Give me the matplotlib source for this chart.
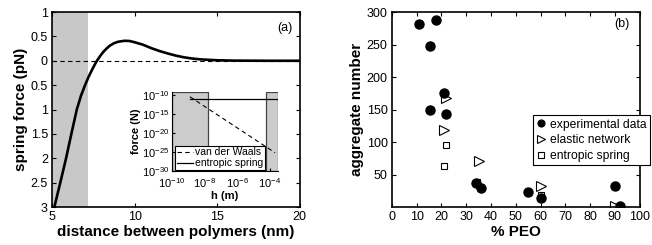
import matplotlib
matplotlib.use('Agg')
import matplotlib.pyplot as plt
from matplotlib.patches import Rectangle

plt.rcParams['font.family'] = ['Liberation Sans', 'DejaVu Sans']
plt.rcParams['mathtext.fontset'] = 'custom'
plt.rcParams['mathtext.rm'] = 'Liberation Sans'
plt.rcParams['mathtext.it'] = 'Liberation Sans:italic'

# ---- panel (a): spring force vs distance ----
dist_nm = [5.14, 5.5, 5.85, 6.17, 6.5, 6.75, 7.0, 7.2, 7.4, 7.6, 7.72, 7.9, 8.1, 8.3,
           8.5, 8.75, 9.0, 9.4, 9.7, 10.0, 10.5, 11.0, 11.5, 12.0, 12.5, 13.0,
           13.5, 14.0, 15.0, 16.0, 18.0, 20.0]
force_pn = [-3.0, -2.5, -2.0, -1.5, -1.0, -0.72, -0.5, -0.34, -0.2, -0.07, 0.0,
            0.09, 0.18, 0.25, 0.31, 0.36, 0.39, 0.41, 0.405, 0.38, 0.33, 0.26, 0.20,
            0.15, 0.105, 0.07, 0.045, 0.028, 0.01, 0.003, 0.0, 0.0]
shade_nm = (5.0, 7.2)
y_ticks_a = [1, 0.5, 0, -0.5, -1, -1.5, -2, -2.5, -3]
y_labels_a = ['1', '0.5', '0', '0.5', '1', '1.5', '2', '2.5', '3']

# inset: log-log force vs h
vdw_h = [10**-8.9, 10**-3.66]
vdw_f = [10**-10.45, 10**-25.2]
spring_h = [10**-8.9, 10**-3.48]
spring_f = [10**-11.05, 10**-11.05]
inset_shade = [(1e-10, 10**-7.8), (10**-4.2, 10**-3.48)]

# ---- panel (b): aggregate number vs % PEO ----
exp_peo = [11, 18, 15.5, 21, 15.5, 22, 34, 36, 55, 60, 90, 92]
exp_agg = [282, 287, 247, 175, 150, 143, 37, 29, 23, 14, 33, 2]
net_peo = [22, 21, 35, 60, 90]
net_agg = [167, 118, 71, 33, 2]
ent_peo = [22, 21, 34.5, 60]
ent_agg = [95, 63, 39, 18]

fig = plt.figure(figsize=(6.52, 2.45), dpi=100)
ax1 = fig.add_axes([0.0798, 0.155, 0.380, 0.796])
ax2 = fig.add_axes([0.601, 0.155, 0.380, 0.796])

for ax in (ax1, ax2):
    ax.tick_params(direction='in', top=True, right=True, length=3, width=0.8,
                   labelsize=9, pad=3)
    for s in ax.spines.values():
        s.set_linewidth(1.2)

ax1.axvspan(*shade_nm, color='#c8c8c8', lw=0, zorder=0)
ax1.axhline(0, color='black', lw=0.8, ls=(0, (4, 3)), zorder=1)
ax1.plot(dist_nm, force_pn, color='black', lw=1.9, zorder=2)
ax1.set_xlim(5, 20)
ax1.set_ylim(-3, 1)
ax1.set_xticks([5, 10, 15, 20])
ax1.set_yticks(y_ticks_a)
ax1.set_yticklabels(y_labels_a)
ax1.set_xlabel('distance between polymers (nm)', fontsize=11, fontweight='bold', labelpad=1)
ax1.set_ylabel('spring force (pN)', fontsize=11, fontweight='bold', labelpad=2)
ax1.text(0.94, 0.92, '(a)', transform=ax1.transAxes, ha='center', va='center', fontsize=9)

# inset
axi = fig.add_axes([172 / 652, (245 - 171) / 245, 106 / 652, 79 / 245])
axi.set_xscale('log')
axi.set_yscale('log')
axi.set_xlim(1e-10, 10**-3.48)
axi.set_ylim(1e-30, 10**-9.2)
for x0, x1 in inset_shade:
    axi.add_patch(Rectangle((x0, 1e-30), x1 - x0, 10**-9.2 - 1e-30,
                            facecolor='#cccccc', edgecolor='#444444', lw=0.9, zorder=0))
axi.plot(vdw_h, vdw_f, color='black', lw=0.8, ls=(0, (4, 3)), label='van der Waals')
axi.plot(spring_h, spring_f, color='black', lw=0.9, label='entropic spring')
axi.spines['top'].set_visible(False)
axi.spines['right'].set_visible(False)
axi.patch.set_alpha(0)
axi.set_xticks([1e-10, 1e-8, 1e-6, 1e-4])
axi.set_xticklabels([r'$10^{-10}$', r'$10^{-8}$', r'$10^{-6}$', r'$10^{-4}$'])
axi.set_yticks([1e-30, 1e-25, 1e-20, 1e-15, 1e-10])
axi.set_yticklabels([r'$10^{-30}$', r'$10^{-25}$', r'$10^{-20}$', r'$10^{-15}$', r'$10^{-10}$'])
axi.minorticks_off()
axi.tick_params(direction='in', length=2, labelsize=8, pad=2)
axi.tick_params(axis='x', pad=3.5)
axi.set_xlabel('h (m)', fontsize=8, fontweight='bold', labelpad=1)
axi.set_ylabel('force (N)', fontsize=8, fontweight='bold', labelpad=1)
leg = axi.legend(loc='lower left', bbox_to_anchor=(0.02, 0.0), fontsize=7.5,
                 frameon=True, fancybox=False, framealpha=1, edgecolor='black',
                 handlelength=1.6, handletextpad=0.2, borderpad=0.15,
                 labelspacing=0.1, borderaxespad=0.1)
leg.get_frame().set_linewidth(0.8)

# panel (b)
ax2.plot(exp_peo, exp_agg, 'o', color='black', ms=6.5, label='experimental data', zorder=3)
ax2.plot(net_peo, net_agg, '>', mfc='white', mec='black', mew=0.8, ms=7,
         label='elastic network', zorder=2)
ax2.plot(ent_peo, ent_agg, 's', mfc='white', mec='black', mew=0.8, ms=5,
         label='entropic spring', zorder=2)
ax2.set_xlim(0, 100)
ax2.set_ylim(0, 300)
ax2.set_xticks(range(0, 101, 10))
ax2.set_yticks([50, 100, 150, 200, 250, 300])
ax2.set_xlabel('% PEO', fontsize=11, fontweight='bold', labelpad=1)
ax2.set_ylabel('aggregate number', fontsize=11, fontweight='bold', labelpad=2)
ax2.text(0.93, 0.94, '(b)', transform=ax2.transAxes, ha='center', va='center', fontsize=9)
leg2 = ax2.legend(loc='upper left', bbox_to_anchor=(0.569, 0.472), fontsize=8.7,
                  frameon=True, fancybox=False, framealpha=1, edgecolor='black',
                  handlelength=0.8, handletextpad=0.3, borderpad=0.3,
                  labelspacing=0.3, borderaxespad=0, markerscale=0.75)
leg2.get_frame().set_linewidth(0.8)

fig.savefig('out.png', dpi=100, facecolor='white')
